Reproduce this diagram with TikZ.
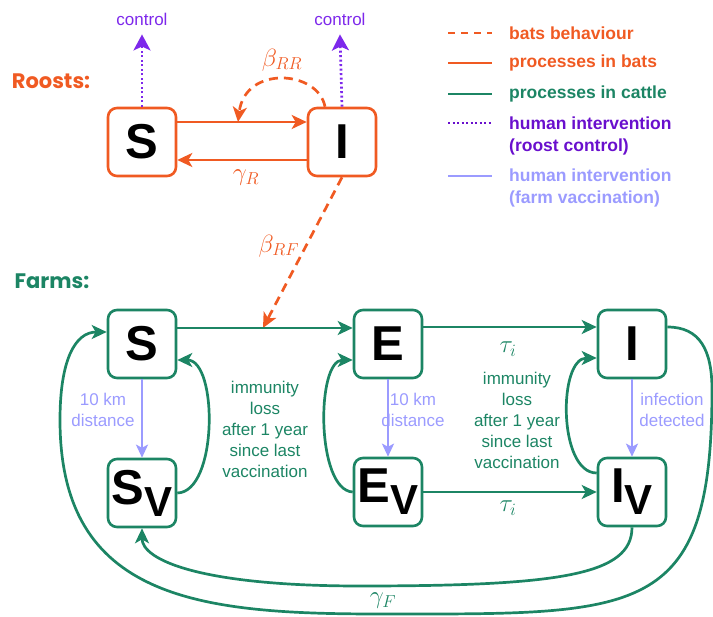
\documentclass[tikz,border=0pt]{standalone}
\usepackage{fontspec}
\setmainfont{Liberation Sans}
\newfontfamily\titlefont{Poppins}
\usetikzlibrary{arrows.meta,calc}
\definecolor{orng}{RGB}{240,90,34}
\definecolor{grn}{RGB}{28,133,100}
\definecolor{purp}{RGB}{125,40,235}
\definecolor{purpdark}{RGB}{105,15,205}
\definecolor{lblue}{RGB}{155,155,255}
\tikzset{
  boxbase/.style={line width=2.6pt, rounded corners=9pt, minimum width=68pt, minimum height=68pt,
    fill=white, inner sep=0pt, font=\fontsize{49}{49}\selectfont\bfseries},
  obox/.style={boxbase, draw=orng},
  gbox/.style={boxbase, draw=grn},
  bigtip/.style={-{Stealth[length=15pt,width=14pt,inset=4pt]}},
  oarrow/.style={draw=orng, line width=2.7pt, bigtip, color=orng},
  odash/.style={draw=orng, line width=2.7pt, dash pattern=on 9pt off 6pt, bigtip, color=orng},
  garrow/.style={draw=grn, line width=2.7pt, bigtip, color=grn},
  barrow/.style={draw=lblue, line width=2.2pt, color=lblue, -{Stealth[length=13pt,width=12pt,inset=3pt]}},
  parrow/.style={draw=purp, line width=2.7pt, color=purp, dash pattern=on 2pt off 2.5pt,
    -{Stealth[length=16pt,width=17pt,inset=4pt]}},
  lbl/.style={font=\fontsize{17}{21}\selectfont, align=center, inner sep=0pt},
  mathlbl/.style={font=\fontsize{25}{27}\selectfont, inner sep=0pt},
  legtxt/.style={font=\fontsize{17.5}{22}\selectfont\bfseries, align=left, anchor=west, inner sep=0pt},
  title/.style={font=\fontsize{21}{24}\titlefont\bfseries, inner sep=0pt},
}
\begin{document}
\begin{tikzpicture}[x=1pt,y=1pt]
\useasboundingbox (0,0) rectangle (713,-617);

% ---------- Roosts ----------
\node[title, text=orng] (roosts) at (51,-81) {Roosts:};
\node[obox] (rS) at (142,-142) {S};
\node[obox] (rI) at (342,-142) {I};
\node[lbl, text=purp] (ctlS) at (142,-19) {control};
\node[lbl, text=purp] (ctlI) at (340,-19) {control};
\draw[parrow] (rS.north) -- ([yshift=-9pt]ctlS.south);
\draw[parrow] (rI.north) -- ([yshift=-9pt]ctlI.south);

\draw[oarrow] ([yshift=20pt]rS.east) -- ([yshift=20pt]rI.west);
\draw[oarrow] ([yshift=-18pt]rI.west) -- ([yshift=-18pt]rS.east);
\coordinate (bRRend) at (238,-122);
\draw[odash] ([xshift=-17pt]rI.north) .. controls (318,-70) and (245,-65) .. (bRRend);
\node[mathlbl, text=orng] (bRR) at (282,-60) {$\beta_{RR}$};
\node[mathlbl, text=orng] (gR) at (246,-178) {$\gamma_R$};

% ---------- Farms ----------
\node[title, text=grn] (farms) at (52,-281) {Farms:};
\node[gbox] (fS) at (142,-344) {S};
\node[gbox] (fE) at (388,-344) {E};
\node[gbox] (fI) at (632,-344) {I};
\node[gbox] (fSv) at (142,-493) {S\raisebox{-12pt}{\fontsize{42}{42}\selectfont V}};
\node[gbox] (fEv) at (388,-492) {E\raisebox{-12pt}{\fontsize{42}{42}\selectfont V}};
\node[gbox] (fIv) at (632,-492) {I\raisebox{-12pt}{\fontsize{42}{42}\selectfont V}};

% bats -> farm infection
\coordinate (bRFend) at (263,-328);
\draw[odash] (rI.south) -- (bRFend);
\node[mathlbl, text=orng] (bRF) at (279,-246) {$\beta_{RF}$};

% main progression
\draw[garrow] ([yshift=16pt]fS.east) -- ([yshift=16pt]fE.west);
\draw[garrow] ([yshift=17pt]fE.east) -- ([yshift=17pt]fI.west);
\draw[garrow] (fEv.east) -- (fIv.west);
\node[mathlbl, text=grn] (tau1) at (508,-349) {$\tau_i$};
\node[mathlbl, text=grn] (tau2) at (508,-508) {$\tau_i$};

% vaccination
\draw[barrow] (fS.south) -- (fSv.north);
\draw[barrow] (fE.south) -- (fEv.north);
\draw[barrow] (fI.south) -- (fIv.north);
\node[lbl, text=lblue] (d1) at (103,-410) {10 km\\distance};
\node[lbl, text=lblue] (d2) at (413,-410) {10 km\\distance};
\node[lbl, text=lblue] (d3) at (672,-410) {infection\\detected};

% immunity loss
\draw[garrow] (fSv.east) .. controls (218,-492) and (218,-360) .. ([yshift=-16pt]fS.east);
\draw[garrow] (fEv.west) .. controls (316,-490) and (316,-360) .. ([yshift=-16pt]fE.west);
\draw[garrow] ([yshift=19pt]fIv.west) .. controls (558,-473) and (558,-358) .. ([yshift=-14pt]fI.west);
\node[lbl, text=grn] (im1) at (265,-429) {immunity\\loss\\after 1 year\\since last\\vaccination};
\node[lbl, text=grn] (im2) at (517,-420) {immunity\\loss\\after 1 year\\since last\\vaccination};

% recovery loops
\draw[garrow] ([yshift=17pt]fI.east) .. controls (700,-327) and (712,-350) .. (712,-390)
   .. controls (712,-620) and (640,-614) .. (380,-614)
   .. controls (200,-614) and (60,-600) .. (60,-420)
   .. controls (60,-360) and (75,-332) .. ([yshift=12pt]fS.west);
\draw[garrow] (fIv.south) .. controls (632,-575) and (560,-586) .. (360,-586)
   .. controls (200,-586) and (142,-560) .. (fSv.south);
\node[mathlbl, text=grn] (gF) at (383,-601) {$\gamma_F$};

% ---------- Legend ----------
\coordinate (l1a) at (448,-33); \coordinate (l1b) at (492,-33);
\coordinate (l2a) at (448,-63); \coordinate (l2b) at (492,-63);
\coordinate (l3a) at (448,-94); \coordinate (l3b) at (492,-94);
\coordinate (l4a) at (448,-123); \coordinate (l4b) at (492,-123);
\coordinate (l5a) at (448,-176); \coordinate (l5b) at (492,-176);
\draw[orng, line width=2.7pt, dash pattern=on 7pt off 6pt] (l1a) -- (l1b);
\draw[orng, line width=2.7pt] (l2a) -- (l2b);
\draw[grn, line width=2.7pt] (l3a) -- (l3b);
\draw[purpdark, line width=2.7pt, dash pattern=on 2pt off 2.5pt] (l4a) -- (l4b);
\draw[lblue, line width=2.7pt] (l5a) -- (l5b);
\node[legtxt, text=orng] (t1) at (509,-33) {bats behaviour};
\node[legtxt, text=orng] (t2) at (509,-63) {processes in bats};
\node[legtxt, text=grn] (t3) at (509,-94) {processes in cattle};
\node[legtxt, text=purpdark] (t4) at (509,-136) {human intervention\\(roost control)};
\node[legtxt, text=lblue] (t5) at (509,-188) {human intervention\\(farm vaccination)};
\end{tikzpicture}
\end{document}
